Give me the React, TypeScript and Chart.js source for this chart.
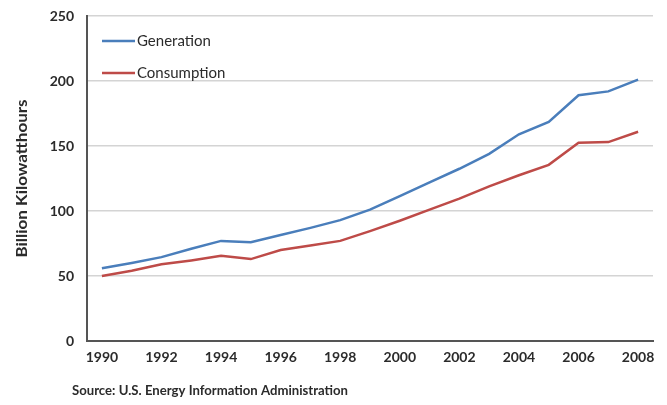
import React, { useEffect, useRef } from "react";
import { Chart, registerables } from "chart.js";

Chart.register(...registerables);

const years = [
  "1990", "1991", "1992", "1993", "1994", "1995", "1996", "1997", "1998", "1999",
  "2000", "2001", "2002", "2003", "2004", "2005", "2006", "2007", "2008",
];
const generation = [
  56, 60, 64.5, 71, 77, 76, 81.5, 87, 93, 101,
  111.5, 122, 132.5, 144, 159, 168.5, 189, 192, 201,
];
const consumption = [
  50, 54, 59, 62, 65.5, 63, 70, 73.5, 77, 84.5,
  92.5, 101, 109.5, 119, 127.5, 135.5, 152.5, 153, 161,
];
const yTicks = [0, 50, 100, 150, 200, 250];
const yTitle = "Billion Kilowatthours";
const sourceNote = "Source: U.S. Energy Information Administration";

const FONT = "Lato, 'Open Sans', sans-serif";
const TEXT = "#2b2b2b";

// Draw text squeezed/stretched along its baseline so it spans a given length
function fitText(ctx: CanvasRenderingContext2D, text: string, x: number, y: number, length: number) {
  const w = ctx.measureText(text).width;
  ctx.save();
  ctx.translate(x, y);
  ctx.scale(length / w, 1);
  ctx.fillText(text, 0, 0);
  ctx.restore();
}

// Legend drawn inside the plot, top-left, plus axis title and source note
const annotations = {
  id: "annotations",
  afterDraw(chart: any) {
    const { ctx, chartArea } = chart;
    ctx.save();
    // legend
    ctx.font = `15px ${FONT}`;
    ctx.textBaseline = "middle";
    ctx.textAlign = "left";
    chart.data.datasets.forEach((ds: any, i: number) => {
      const y = chartArea.top + 25 + i * 32;
      const x0 = chartArea.left + 15;
      ctx.strokeStyle = ds.borderColor;
      ctx.lineWidth = 2.5;
      ctx.beginPath();
      ctx.moveTo(x0, y);
      ctx.lineTo(x0 + 33, y);
      ctx.stroke();
      ctx.fillStyle = TEXT;
      ctx.fillText(ds.label, x0 + 35, y);
    });
    // y axis title
    ctx.font = `bold 15px ${FONT}`;
    ctx.translate(22, (chartArea.top + chartArea.bottom) / 2);
    ctx.rotate(-Math.PI / 2);
    ctx.textAlign = "center";
    fitText(ctx, yTitle, 0, 0, 158);
    ctx.restore();
    // source note
    ctx.save();
    ctx.font = `bold 13px ${FONT}`;
    ctx.fillStyle = TEXT;
    ctx.textAlign = "left";
    ctx.textBaseline = "middle";
    fitText(ctx, sourceNote, chartArea.left - 15, chartArea.bottom + 50, 276);
    ctx.restore();
  },
};

export default function App() {
  const canvasRef = useRef<HTMLCanvasElement | null>(null);

  useEffect(() => {
    if (!canvasRef.current) return;
    const chart = new Chart(canvasRef.current, {
      type: "line",
      data: {
        labels: years,
        datasets: [
          {
            label: "Generation",
            data: generation,
            borderColor: "#4a7ebb",
            borderWidth: 2.5,
            pointRadius: 0,
            tension: 0,
          },
          {
            label: "Consumption",
            data: consumption,
            borderColor: "#be4b48",
            borderWidth: 2.5,
            pointRadius: 0,
            tension: 0,
          },
        ],
      },
      options: {
        responsive: false,
        animation: false,
        layout: { padding: { left: 6, top: 16, right: 14, bottom: 34 } },
        plugins: {
          legend: { display: false },
          tooltip: { enabled: false },
        },
        scales: {
          x: {
            type: "category",
            offset: true,
            grid: { display: false, drawTicks: false },
            border: { color: "#555", width: 2 },
            ticks: {
              autoSkip: false,
              maxRotation: 0,
              padding: 8,
              color: TEXT,
              font: { family: FONT, size: 14, weight: "bold" },
              callback: (_v: any, i: number) => (i % 2 === 0 ? years[i] : ""),
            },
            afterFit: (s: any) => {
              s.height = 30;
            },
          },
          y: {
            min: 0,
            max: 250,
            afterBuildTicks: (s: any) => {
              s.ticks = yTicks.map((v) => ({ value: v }));
            },
            grid: {
              drawTicks: false,
              color: (c: any) => (c.tick && c.tick.value === 0 ? "rgba(0,0,0,0)" : "#d4d4d4"),
              lineWidth: 1.5,
            },
            border: { color: "#555", width: 2 },
            ticks: {
              padding: 13,
              color: TEXT,
              font: { family: FONT, size: 14, weight: "bold" },
            },
            afterFit: (s: any) => {
              s.width = 81;
              s.paddingTop = 0;
              s.paddingBottom = 0;
            },
          },
        },
      },
      plugins: [annotations],
    });
    return () => chart.destroy();
  }, []);

  return (
    <div style={{ position: "fixed", left: 0, top: 0, width: 667, height: 405, background: "#fff" }}>
      <canvas ref={canvasRef} width={667} height={405} style={{ display: "block" }} />
    </div>
  );
}
